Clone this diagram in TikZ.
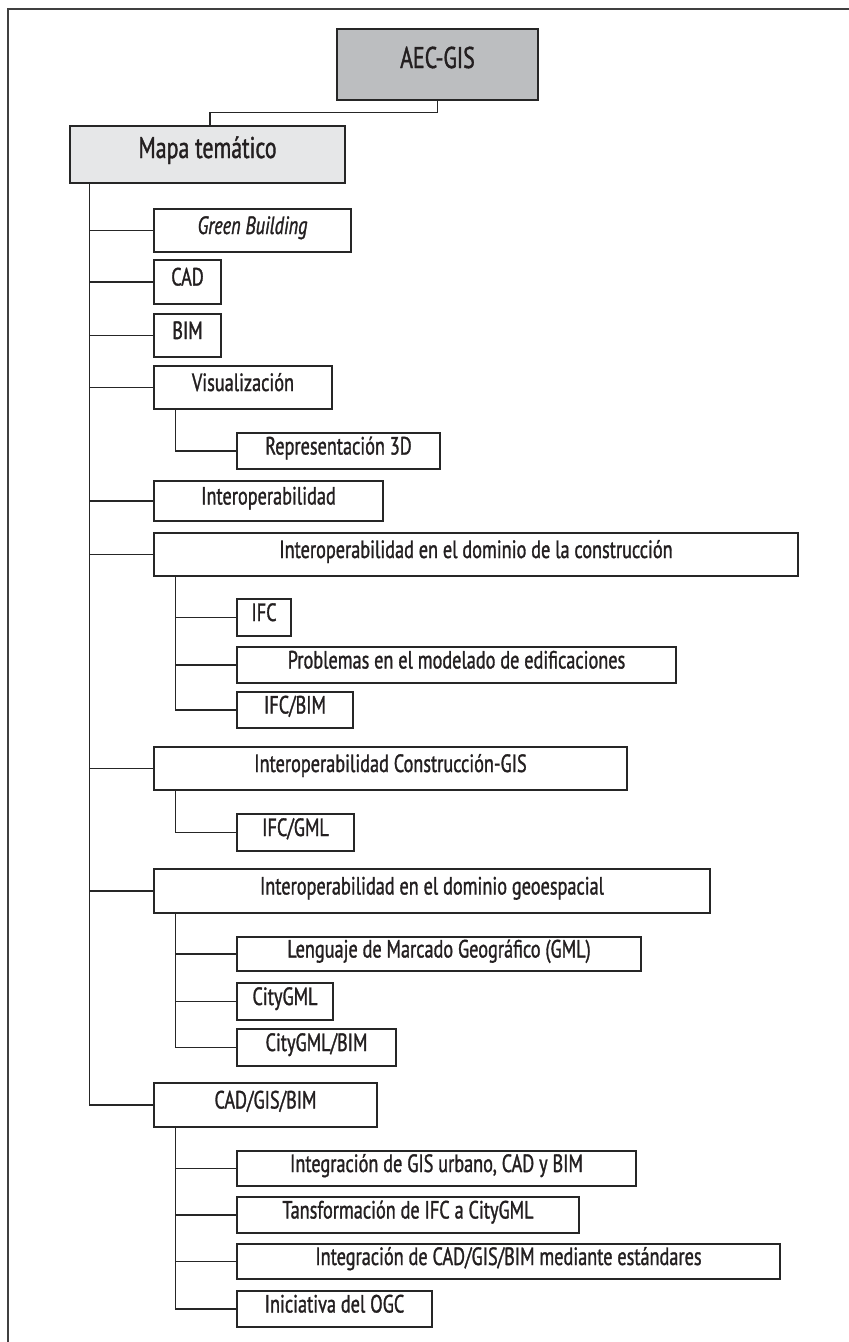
\documentclass[tikz,border=0pt]{standalone}
\usepackage{fontspec}
\newfontfamily\lblfont[FakeStretch=0.73,FakeBold=1.2]{PT Sans}
\definecolor{aecfill}{HTML}{BCBEC0}
\definecolor{mapafill}{HTML}{E6E7E8}
\definecolor{inkc}{HTML}{231F20}
\tikzset{
  box/.style={draw=black!85, line width=1.3pt, fill=white, inner sep=0pt,
    text=inkc, font=\lblfont\fontsize{25}{28}\selectfont, text height=0.7em, text depth=0pt},
  bigbox/.style={box, font=\lblfont\fontsize{30}{33}\selectfont},
  conn/.style={draw=black!85, line width=1.3pt},
  frameline/.style={draw=black!75, line width=1.8pt}
}
\newcommand\mkbox[7][]{\node[box,#1,minimum width={#5-#3},minimum height={#6-#4}] (#2) at ({(#3+#5)/2},{(#4+#6)/2}) {#7};}
\begin{document}
\begin{tikzpicture}[x=1pt,y=-1pt]
\useasboundingbox[fill=white] (0,0) rectangle (849,1342);
\draw[frameline] (8,1342) -- (8,9) -- (849,9);
\mkbox[bigbox,fill=aecfill]{aec}{337}{29}{538}{100}{AEC-GIS}
\mkbox[bigbox,fill=mapafill]{mapa}{70}{126}{345}{183}{Mapa temático}
\mkbox{gb}{154}{209}{351}{252}{\itshape Green Building}
\mkbox{cad}{154}{260}{221}{304}{CAD}
\mkbox{bim}{154}{314}{221}{357}{BIM}
\mkbox{vis}{154}{366}{332}{409}{Visualización}
\mkbox{rep}{237}{433}{440}{469}{Representación 3D}
\mkbox{inter}{154}{481}{383}{521}{Interoperabilidad}
\mkbox{constr}{154}{533}{798}{576}{Interoperabilidad en el dominio de la construcción}
\mkbox{ifc}{237}{599}{291}{636}{IFC}
\mkbox{prob}{237}{647}{676}{683}{Problemas en el modelado de edificaciones}
\mkbox{ifcbim}{237}{692}{353}{728}{IFC/BIM}
\mkbox{cgis}{154}{747}{627}{790}{Interoperabilidad Construcción-GIS}
\mkbox{ifcgml}{237}{814}{354}{851}{IFC/GML}
\mkbox{geo}{154}{869}{710}{913}{Interoperabilidad en el dominio geoespacial}
\mkbox{gml}{237}{937}{641}{971}{Lenguaje de Marcado Geográfico (GML)}
\mkbox{city}{237}{983}{333}{1020}{CityGML}
\mkbox{citybim}{237}{1029}{396}{1066}{CityGML/BIM}
\mkbox{cgb}{154}{1083}{377}{1127}{CAD/GIS/BIM}
\mkbox{intega}{237}{1151}{636}{1186}{Integración de GIS urbano, CAD y BIM}
\mkbox{tans}{237}{1197}{579}{1233}{Tansformación de IFC a CityGML}
\mkbox{integb}{237}{1244}{780}{1279}{Integración de CAD/GIS/BIM mediante estándares}
\mkbox{ogc}{237}{1291}{432}{1327}{Iniciativa del OGC}
\coordinate (T) at (89.5,0);
\coordinate (S) at (175.5,0);
\draw[conn] (aec.south) -- ++(0,12) -| ([xshift=2.5pt]mapa.north);
\draw[conn] (T |- mapa.south) |- (cgb.west);
\foreach \n in {gb,cad,bim,vis,inter,constr,cgis,geo}
  \draw[conn] (T |- \n.west) -- (\n.west);
\draw[conn] (S |- vis.south) |- (rep.west);
\draw[conn] (S |- constr.south) |- (ifcbim.west);
\foreach \n in {ifc,prob} \draw[conn] (S |- \n.west) -- (\n.west);
\draw[conn] (S |- cgis.south) |- (ifcgml.west);
\draw[conn] (S |- geo.south) |- (citybim.west);
\foreach \n in {gml,city} \draw[conn] (S |- \n.west) -- (\n.west);
\draw[conn] (S |- cgb.south) |- (ogc.west);
\foreach \n in {intega,tans,integb} \draw[conn] (S |- \n.west) -- (\n.west);
\end{tikzpicture}
\end{document}
